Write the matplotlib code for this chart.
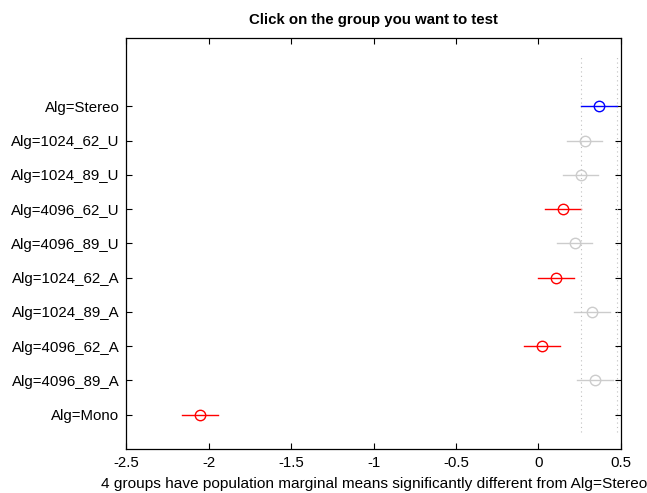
import matplotlib.pyplot as plt
import numpy as np

plt.rcParams["font.family"] = ["Liberation Sans", "DejaVu Sans"]

# groups listed top to bottom
groups = [
    "Alg=Stereo", "Alg=1024_62_U", "Alg=1024_89_U", "Alg=4096_62_U",
    "Alg=4096_89_U", "Alg=1024_62_A", "Alg=1024_89_A", "Alg=4096_62_A",
    "Alg=4096_89_A", "Alg=Mono",
]
means = [0.367, 0.28, 0.256, 0.149, 0.221, 0.106, 0.325, 0.021, 0.343, -2.054]
half_width = [0.107] * 10
status = ["test", "ns", "ns", "sig", "ns", "sig", "ns", "sig", "ns", "sig"]
colors = {"test": "#0000ff", "sig": "#ff0000", "ns": "#cccccc"}

fig = plt.figure(figsize=(6.47, 4.93), dpi=100)
ax = fig.add_axes([0.1955, 0.0892, 0.764, 0.834])

n = len(groups)
ypos = np.arange(n, 0, -1)
for y, m, h, s in zip(ypos, means, half_width, status):
    c = colors[s]
    ax.plot([m - h, m + h], [y, y], color=c, lw=1)
    ax.plot(m, y, "o", mfc="none", mec=c, ms=7.5, mew=1)

# comparison interval of the tested group
ref = 0
ax.vlines([means[ref] - half_width[ref], means[ref] + half_width[ref]], 0.5, 11.5,
          colors="#c0c0c0", linestyles=(0, (1, 3)), lw=0.8)

ax.set_xlim(-2.5, 0.5)
ax.set_ylim(0, 12)
ax.set_xticks(np.arange(-2.5, 0.51, 0.5))
ax.set_xticklabels(["-2.5", "-2", "-1.5", "-1", "-0.5", "0", "0.5"])
ax.set_yticks(ypos)
ax.set_yticklabels(groups)
ax.tick_params(direction="in", top=True, right=True, length=4, labelsize=10.8, color="black")
ax.tick_params(axis="x", pad=5)
ax.tick_params(axis="y", pad=5)
for sp in ax.spines.values():
    sp.set_linewidth(0.9)

ax.set_title("Click on the group you want to test", fontsize=10.8, fontweight="bold", pad=10)
ax.set_xlabel("4 groups have population marginal means significantly different from Alg=Stereo",
              fontsize=11.1, labelpad=5)

fig.savefig("out.png", dpi=100)
